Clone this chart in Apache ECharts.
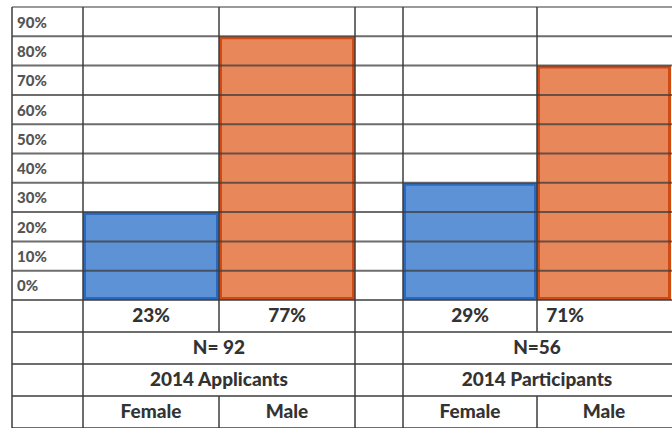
<!DOCTYPE html>
<html>
<head>
<meta charset="utf-8">
<script src="https://cdn.jsdelivr.net/npm/echarts@6/dist/echarts.min.js"></script>
<style>
  html, body { margin: 0; padding: 0; background: #fff; }
  #chart { width: 672px; height: 428px; }
</style>
</head>
<body>
<div id="chart"></div>
<script>
// row labels of the percentage grid, bottom to top
const rowLabels = ['0%', '10%', '20%', '30%', '40%', '50%', '60%', '70%', '80%', '90%'];
const genders = ['Female', 'Male'];
const groupNames = ['2014 Applicants', '2014 Participants'];
const groupCounts = ['N= 92', 'N=56'];
const applicantShares = ['23%', '77%'];
const participantShares = ['29%', '71%'];
// bar heights as drawn in the picture (grid rows)
const applicantBars = [30, 90];
const participantBars = [40, 80];

// table layout
const TOP = 7;
const BOTTOM = 300;
const ROW_H = 32;
const LABEL_COL = [12, 83];
const APP_COL = [83, 355];
const PART_COL = [403, 671];

const font = { fontFamily: 'Lato', fontWeight: 900, fontSize: 19, color: '#333' };
const barStyles = [
  { color: '#5d92d6', borderColor: '#2a69c0', borderWidth: 3 },
  { color: '#e8875a', borderColor: '#d04a14', borderWidth: 3 }
];

const chart = echarts.init(document.getElementById('chart'), null, { renderer: 'svg' });

const xAxisPair = (gridIndex, groupIdx, shares) => [
  {
    gridIndex, type: 'category', data: genders, position: 'bottom',
    axisLine: { show: false }, axisTick: { show: false }, splitLine: { show: false },
    axisLabel: { ...font, margin: 101 },
    name: groupNames[groupIdx], nameLocation: 'middle', nameGap: 69, nameMoveOverlap: false,
    nameTextStyle: font
  },
  {
    gridIndex, type: 'category', data: shares, position: 'bottom',
    axisLine: { show: false }, axisTick: { show: false }, splitLine: { show: false },
    axisLabel: { ...font, margin: 5 },
    name: groupCounts[groupIdx], nameLocation: 'middle', nameGap: 37, nameMoveOverlap: false,
    nameTextStyle: font
  }
];

// table rules
const rules = [];
const line = (x1, y1, x2, y2, stroke) => rules.push({
  type: 'line', z: 100, silent: true,
  shape: { x1, y1, x2, y2 },
  style: { stroke: stroke || 'rgba(60,60,60,0.75)', lineWidth: 2 }
});
const rowH = (BOTTOM - TOP) / rowLabels.length;
for (let i = 0; i <= rowLabels.length; i++) {
  line(LABEL_COL[0], TOP + i * rowH, 680, TOP + i * rowH, i === 0 ? '#9a9a9a' : null);
}
for (let k = 1; k <= 4; k++) line(LABEL_COL[0], BOTTOM + k * ROW_H, 680, BOTTOM + k * ROW_H);
[LABEL_COL[0], LABEL_COL[1], APP_COL[1], PART_COL[0]].forEach(x => line(x, TOP, x, 430));
[(APP_COL[0] + APP_COL[1]) / 2, (PART_COL[0] + PART_COL[1]) / 2].forEach(x => {
  line(x, TOP, x, BOTTOM + ROW_H);
  line(x, BOTTOM + 3 * ROW_H, x, 430);
});

const partAxes = xAxisPair(1, 1, participantShares);
// the "71%" cell text sits left of centre in the picture
partAxes[1].data = participantShares.map((s, i) =>
  i === 1 ? { value: s, textStyle: { padding: [0, 78, 0, 0] } } : s);

const option = {
  animation: false,
  backgroundColor: '#fff',
  grid: [
    { left: APP_COL[0], top: TOP, width: APP_COL[1] - APP_COL[0], height: BOTTOM - TOP, outerBoundsMode: 'none' },
    { left: PART_COL[0], top: TOP, width: PART_COL[1] - PART_COL[0], height: BOTTOM - TOP, outerBoundsMode: 'none' }
  ],
  xAxis: [
    ...xAxisPair(0, 0, applicantShares),
    ...partAxes
  ],
  yAxis: [
    {
      gridIndex: 0, type: 'category', data: rowLabels,
      axisLine: { show: false }, axisTick: { show: false }, splitLine: { show: false },
      axisLabel: { align: 'left', margin: APP_COL[0] - 17, fontFamily: 'Lato', fontWeight: 900, fontSize: 15, color: '#555' }
    },
    { gridIndex: 0, type: 'value', min: 0, max: 100, show: false },
    { gridIndex: 1, type: 'value', min: 0, max: 100, show: false }
  ],
  series: [
    {
      type: 'bar', xAxisIndex: 0, yAxisIndex: 1, barWidth: '100%',
      data: applicantBars.map((v, i) => ({ value: v, itemStyle: barStyles[i] }))
    },
    {
      type: 'bar', xAxisIndex: 2, yAxisIndex: 2, barWidth: '100%',
      data: participantBars.map((v, i) => ({ value: v, itemStyle: barStyles[i] }))
    }
  ],
  graphic: rules
};

chart.setOption(option);
</script>
</body>
</html>
